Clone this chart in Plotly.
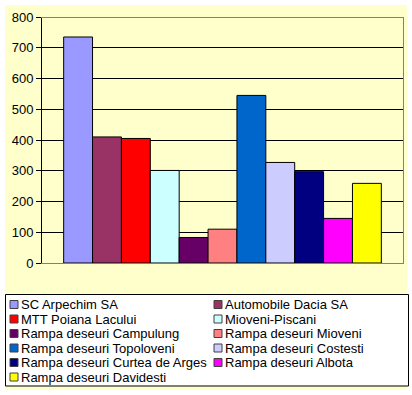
import plotly.graph_objects as go

# ---- data ----
names = [
    "SC Arpechim SA",
    "Automobile Dacia SA",
    "MTT Poiana Lacului",
    "Mioveni-Piscani",
    "Rampa deseuri Campulung",
    "Rampa deseuri Mioveni",
    "Rampa deseuri Topoloveni",
    "Rampa deseuri Costesti",
    "Rampa deseuri Curtea de Arges",
    "Rampa deseuri Albota",
    "Rampa deseuri Davidesti",
]
values = [735, 410, 405, 301, 83, 110, 545, 327, 297, 145, 259]
colors = [
    "#9999FF", "#993366", "#FF0000", "#CCFFFF", "#660066", "#FF8080",
    "#0066CC", "#CCCCFF", "#000080", "#FF00FF", "#FFFF00",
]
y_ticks = [0, 100, 200, 300, 400, 500, 600, 700, 800]
category = ["Total"]

# ---- layout geometry (pixels) ----
W, H = 412, 395
L, R, T, B = 42, 9, 17, 132
pw = W - L - R
ph = H - T - B


def px(x):
    return (x - L) / pw


def py(y):
    return (H - B - y) / ph


FONT = "Arial, Liberation Sans, sans-serif"

fig = go.Figure()
for n, v, c in zip(names, values, colors):
    fig.add_trace(go.Bar(
        x=category, y=[v], name=n,
        marker=dict(color=c, line=dict(color="black", width=1)),
        showlegend=False,
    ))

shapes = []
annotations = []
# yellow chart background
shapes.append(dict(type="rect", xref="paper", yref="paper",
                   x0=px(5), x1=px(407), y0=py(390), y1=py(5),
                   fillcolor="#FFFFCC", line=dict(width=0), layer="below"))
# top and right border of plot area (grey)
shapes.append(dict(type="line", xref="paper", yref="paper",
                   x0=px(41), x1=px(404), y0=py(17.5), y1=py(17.5),
                   line=dict(color="#808080", width=1)))
shapes.append(dict(type="line", xref="paper", yref="paper",
                   x0=px(403.5), x1=px(403.5), y0=py(264), y1=py(17),
                   line=dict(color="#808080", width=1)))
# legend box
shapes.append(dict(type="rect", xref="paper", yref="paper",
                   x0=px(5.5), x1=px(408.5), y0=py(386), y1=py(294.5),
                   fillcolor="white", line=dict(color="black", width=1)))
col_sw = [10, 214]
row0, rstep = 304.5, 14.5
for i, (n, c) in enumerate(zip(names, colors)):
    row, col = divmod(i, 2)
    cy = row0 + row * rstep
    sx = col_sw[col]
    shapes.append(dict(type="rect", xref="paper", yref="paper",
                       x0=px(sx), x1=px(sx + 8), y0=py(cy + 4), y1=py(cy - 4),
                       fillcolor=c, line=dict(color="#404040", width=1)))
    annotations.append(dict(text=n, xref="paper", yref="paper",
                            x=px(sx + 9), y=py(cy), xanchor="left", yanchor="middle",
                            showarrow=False,
                            font=dict(family=FONT, size=13, color="black")))

fig.update_layout(
    width=W, height=H,
    margin=dict(l=L, r=R, t=T, b=B, autoexpand=False),
    paper_bgcolor="white",
    plot_bgcolor="rgba(0,0,0,0)",
    barmode="group", bargap=0.12, bargroupgap=0,
    font=dict(family=FONT, size=13, color="black"),
    shapes=shapes,
    annotations=annotations,
    showlegend=False,
    xaxis=dict(type="category", showticklabels=False, ticks="",
               showline=True, linecolor="#808080", linewidth=1, mirror=False,
               showgrid=False, zeroline=False, fixedrange=True),
    yaxis=dict(range=[0, 800], tickvals=y_ticks, ticks="outside", ticklen=5,
               tickcolor="black", tickwidth=1,
               showline=True, linecolor="black", linewidth=1,
               showgrid=True, gridcolor="black", gridwidth=1,
               zeroline=False, tickfont=dict(family=FONT, size=13, color="black"),
               fixedrange=True),
)

fig.write_html("out.html", config={"displayModeBar": False, "staticPlot": True},
               post_script="document.body.style.margin='0';")
